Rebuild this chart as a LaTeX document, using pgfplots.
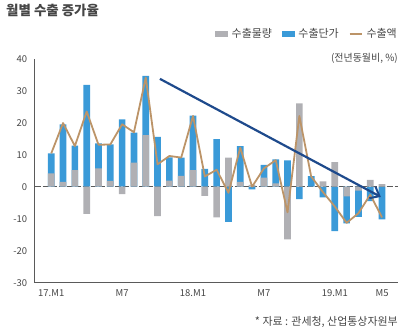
\documentclass[border=0pt]{standalone}
\usepackage{pgfplots}
\pgfplotsset{compat=1.18}
\usepackage{pgfplotstable}
\usepackage{fontspec}
\setmainfont{Noto Sans CJK KR}
\usetikzlibrary{arrows.meta}
\definecolor{cblue}{RGB}{58,154,216}
\definecolor{cgray}{RGB}{176,176,180}
\definecolor{ctan}{RGB}{188,148,104}
\definecolor{cnavy}{RGB}{30,74,140}
\definecolor{ctext}{RGB}{70,70,70}
\definecolor{caxis}{RGB}{90,90,90}

% m: month index; g: volume; bt: plotted top of blue bar (price, stacked on volume when same sign); v: export value
\pgfplotstableread{
m g bt v
1 4.2 10.4 10.4
2 1.5 19.5 19.9
3 5.2 12.8 12.7
4 -8.5 31.8 23.5
5 5.7 13.5 13.1
6 1.8 13.2 13.2
7 -2.3 21.0 19.5
8 7.5 16.9 17.0
9 16.1 34.6 34.1
10 -9.2 15.6 7.0
11 1.9 9.2 9.6
12 3.4 9.1 9.1
13 5.2 22.2 22.1
14 -2.9 5.6 3.2
15 -9.6 14.9 5.3
16 9.1 -11.0 -1.9
17 1.5 12.7 12.2
18 0.6 -0.8 0.0
19 2.8 6.8 5.7
20 1.0 8.5 8.3
21 -16.5 8.2 -8.0
22 26.0 -3.9 22.1
23 0.0 3.3 3.2
24 1.7 -3.3 -1.7
25 7.7 -13.9 -6.2
26 -3.0 -11.5 -11.3
27 -1.2 -9.4 -8.3
28 2.1 -4.5 -2.5
29 0.8 -10.2 -9.6
}\datatab

\begin{document}
\begin{tikzpicture}
\useasboundingbox (0bp,0bp) rectangle (410bp,334bp);
\node[anchor=west, font=\fontsize{13.5}{15}\selectfont\bfseries, text=ctext, inner sep=0] at (6bp,324bp) {월별 수출 증가율};
\node[anchor=east, font=\fontsize{10}{12}\selectfont, text=ctext, inner sep=0] at (398bp,276bp) {(전년동월비, \%)};
\node[anchor=east, font=\fontsize{11}{13}\selectfont, text=ctext, inner sep=0] at (398bp,12bp) {* 자료 : 관세청, 산업통상자원부};
\begin{axis}[
  at={(34.7bp,51.3bp)}, anchor=south west,
  width=363.3bp, height=224bp, scale only axis,
  xmin=-0.4, xmax=30.35, ymin=-30, ymax=40,
  axis x line*=bottom, axis y line*=left,
  axis line style={caxis, line width=1pt, -},
  xtick={1,7,13,19,25,29},
  xticklabels={17.M1,M7,18.M1,M7,19.M1,M5},
  ytick={-30,-20,...,40},
  major tick length=0pt,
  /pgf/number format/assume math mode=true,
  tick label style={font=\fontsize{9.5}{11}\selectfont, text=ctext},
  xticklabel style={yshift=-3bp},
  yticklabel style={xshift=-4bp},
  legend columns=3,
  legend style={at={(rel axis cs:1,1.11)}, anchor=east, draw=none, fill=none, inner sep=0pt,
    font=\fontsize{11}{13}\selectfont, text=ctext,
    /tikz/every odd column/.append style={column sep=3bp},
    /tikz/every even column/.append style={column sep=9bp},
    nodes={inner sep=1bp}},
  clip=false,
]
\draw[caxis, dash pattern=on 6bp off 2bp, line width=0.9pt] (axis cs:-0.4,0) -- (axis cs:30.35,0);
\addplot[ybar, bar width=6.7bp, bar shift=0pt, fill=cblue, draw=none, forget plot] table[x=m, y=bt] {\datatab};
\addplot[ybar, bar width=6.7bp, bar shift=0pt, fill=cgray, draw=none, forget plot] table[x=m, y=g] {\datatab};
\addplot[sharp plot, ctan, line width=1.8pt, line join=round, forget plot] table[x=m, y=v] {\datatab};
\addplot[cnavy, line width=2.2pt, -{Straight Barb[length=8bp,width=13bp,line width=2pt]}, forget plot] coordinates {(10.2,33.7) (28.9,-3.2)};
\addlegendimage{legend image code/.code={\fill[cgray] (0bp,-2.5bp) rectangle (12bp,2.5bp);}}
\addlegendentry{수출물량}
\addlegendimage{legend image code/.code={\fill[cblue] (0bp,-2.5bp) rectangle (12bp,2.5bp);}}
\addlegendentry{수출단가}
\addlegendimage{legend image code/.code={\draw[ctan, line width=1.8pt] (0bp,0bp) -- (12bp,0bp);}}
\addlegendentry{수출액}
\end{axis}
\end{tikzpicture}
\end{document}
